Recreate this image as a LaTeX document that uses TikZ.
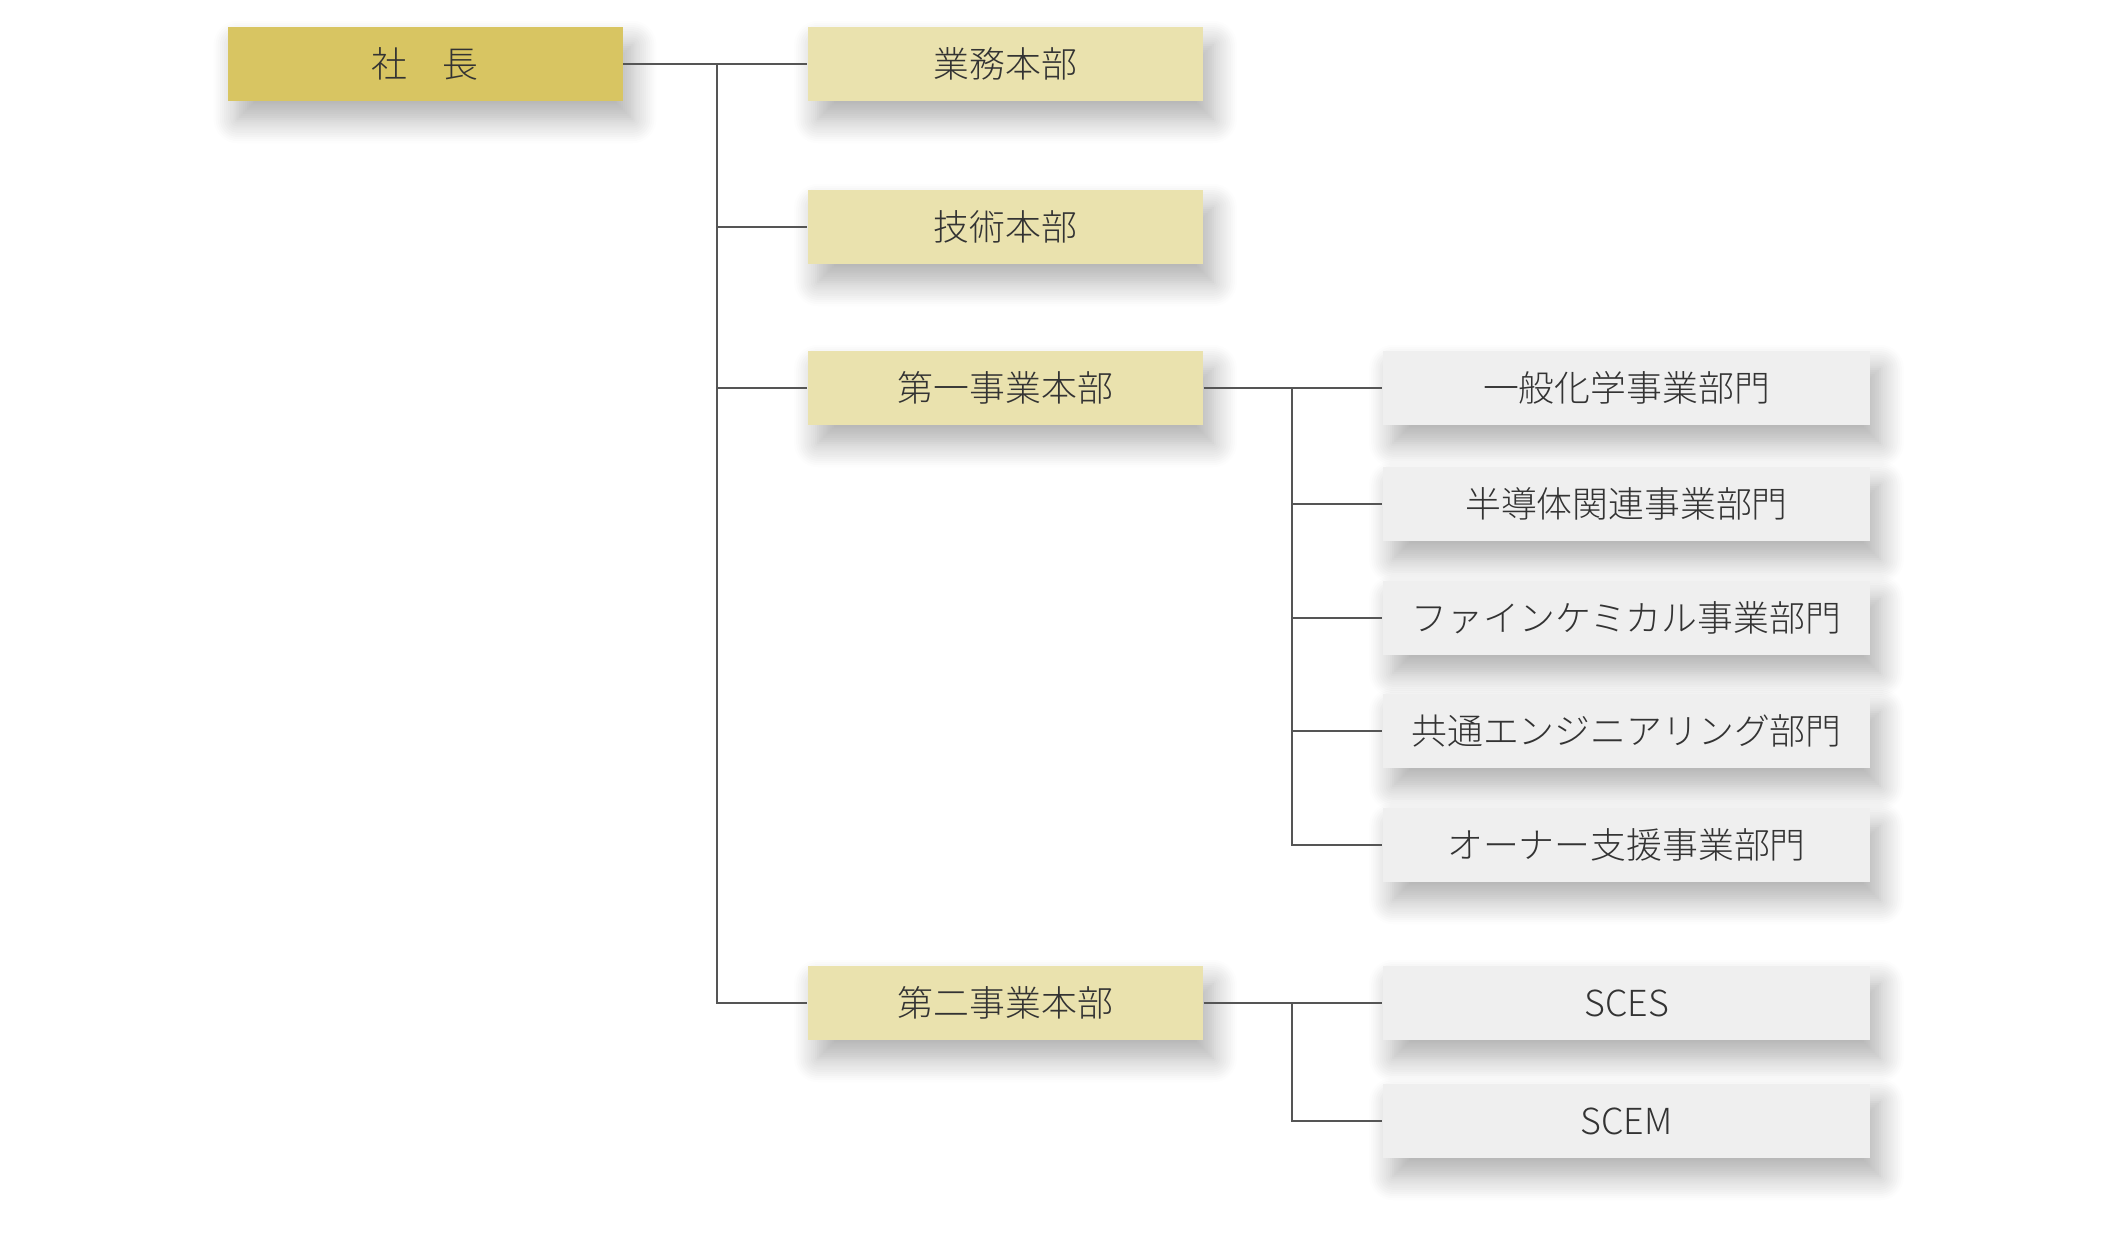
\documentclass[tikz,border=0pt]{standalone}
\usepackage{fontspec}
\setmainfont{Noto Sans CJK JP}[UprightFont=* Light]
\usetikzlibrary{shadows.blur}

\definecolor{gold}{HTML}{D8C562}
\definecolor{palegold}{HTML}{EAE2AE}
\definecolor{palegray}{HTML}{EFEFEF}
\definecolor{ink}{HTML}{333333}
\definecolor{wire}{HTML}{555555}

\begin{document}
\begin{tikzpicture}[x=0.1mm, y=-0.1mm,
    every node/.style={font=\fontsize{10.2}{12}\selectfont, text=ink, inner sep=0pt},
    box/.style={fill=#1, minimum height=7.45mm,
      blur shadow={shadow xshift=1mm, shadow yshift=-1.8mm, shadow blur radius=2.4mm,
        shadow blur steps=12, shadow opacity=32}},
    head/.style={box=#1, minimum width=39.5mm},
    unit/.style={box=palegray, minimum width=48.7mm},
    link/.style={wire, line width=0.45pt}]
    \useasboundingbox (0,0) rectangle (2126,1239);

    % left column
    \node[head=gold] (boss) at (425,64) {社　長};
    \node[head=palegold] (gyomu) at (1005.5,64) {業務本部};
    \node[head=palegold] (gijutsu) at (1005.5,227) {技術本部};
    \node[head=palegold] (dai1) at (1005.5,388) {第一事業本部};
    \node[head=palegold] (dai2) at (1005.5,1003) {第二事業本部};

    % right column
    \node[unit] (ippan) at (1626.5,388) {一般化学事業部門};
    \node[unit] (handotai) at (1626.5,504) {半導体関連事業部門};
    \node[unit] (fine) at (1626.5,618) {ファインケミカル事業部門};
    \node[unit] (kyotsu) at (1626.5,731) {共通エンジニアリング部門};
    \node[unit] (owner) at (1626.5,845) {オーナー支援事業部門};
    \node[unit] (sces) at (1626.5,1003) {SCES};
    \node[unit] (scem) at (1626.5,1121) {SCEM};

    \coordinate (j1) at (717,64);
    \coordinate (j2) at (1292,388);
    \coordinate (j3) at (1292,1003);

    \draw[link] (boss.east) -- (gyomu.west);
    \foreach \n in {gijutsu,dai1,dai2}
        \draw[link] (j1) |- (\n.west);

    \draw[link] (dai1.east) -- (ippan.west);
    \foreach \n in {handotai,fine,kyotsu,owner}
        \draw[link] (j2) |- (\n.west);

    \draw[link] (dai2.east) -- (sces.west);
    \draw[link] (j3) |- (scem.west);
\end{tikzpicture}
\end{document}
